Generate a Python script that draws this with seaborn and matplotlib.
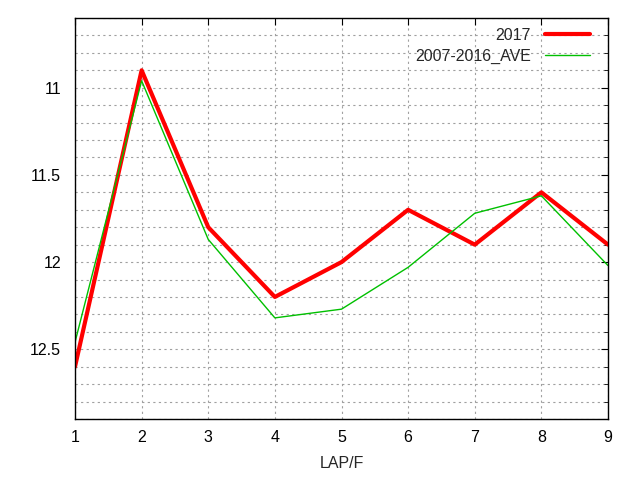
import pandas as pd
import numpy as np
import matplotlib
matplotlib.use('Agg')
import matplotlib.pyplot as plt
import seaborn as sns
from matplotlib.ticker import MultipleLocator

# 数据
laps = [1, 2, 3, 4, 5, 6, 7, 8, 9]
y2017 = [12.6, 10.9, 11.8, 12.2, 12.0, 11.7, 11.9, 11.6, 11.9]
ave = [12.46, 10.96, 11.87, 12.32, 12.27, 12.03, 11.72, 11.62, 12.02]

df = pd.DataFrame({
    'LAP': laps * 2,
    'value': y2017 + ave,
    'series': ['2017'] * len(laps) + ['2007-2016_AVE'] * len(laps),
})

sns.set_style('white')
plt.rcParams['font.family'] = ['Liberation Sans', 'DejaVu Sans']
FS = 11.5

fig = plt.figure(figsize=(6.4, 4.8), dpi=100)
ax = fig.add_axes([75 / 640, 1 - 419 / 480, (608 - 75) / 640, (419 - 18) / 480])

sns.lineplot(data=df, x='LAP', y='value', hue='series', size='series',
             palette={'2017': '#ff0000', '2007-2016_AVE': '#00c000'},
             sizes={'2017': 3.0, '2007-2016_AVE': 1.0}, ax=ax)

ax.set_xlim(1, 9)
ax.set_ylim(12.9, 10.6)
ax.set_xticks(laps)
ax.yaxis.set_major_locator(MultipleLocator(0.5))
ax.yaxis.set_minor_locator(MultipleLocator(0.1))
ax.set_yticks([11, 11.5, 12, 12.5])
ax.set_yticklabels(['11', '11.5', '12', '12.5'])
ax.tick_params(axis='both', which='both', direction='in', top=True, right=True,
               labelsize=FS, colors='black')
ax.tick_params(axis='both', which='major', length=5)
ax.tick_params(axis='x', which='major', pad=8)
ax.tick_params(axis='y', which='major', pad=10)
ax.tick_params(axis='y', which='minor', length=3)
ax.grid(True, which='both', axis='y', color='#a0a0a0', linestyle=(0, (2, 3)), linewidth=0.8)
ax.grid(True, which='major', axis='x', color='#a0a0a0', linestyle=(0, (2, 3)), linewidth=0.8)
for s in ax.spines.values():
    s.set_color('black')
    s.set_linewidth(1.0)

ax.set_xlabel('LAP/F', fontsize=FS, labelpad=8)
ax.set_ylabel('')

handles, labels = ax.get_legend_handles_labels()
leg = ax.legend(handles, labels, loc='upper right', bbox_to_anchor=(0.978, 0.992),
                borderaxespad=0, frameon=False, markerfirst=False,
                fontsize=FS, handlelength=2.8, handletextpad=0.9, labelspacing=0.4)

fig.savefig('out.png', dpi=100)
